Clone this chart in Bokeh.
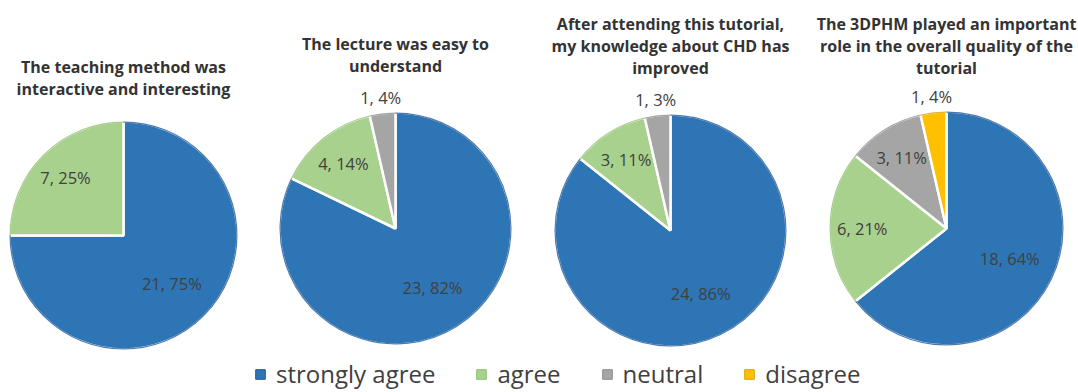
from math import pi, sin, cos, nan

from bokeh.core.properties import value
from bokeh.embed import file_html
from bokeh.models import ColumnDataSource, Legend, LegendItem, Range1d
from bokeh.plotting import figure
from bokeh.resources import INLINE

# ---- data -------------------------------------------------------------
categories = ["strongly agree", "agree", "neutral", "disagree"]
colors = ["#2E75B6", "#A9D18E", "#A5A5A5", "#FFC000"]
edge_colors = ["#22589A", "#8DBF6E", "#8C8C8C", "#D9A300"]

titles = [
    ["The teaching method was", "interactive and interesting"],
    ["The lecture was easy to", "understand"],
    ["After attending this tutorial,", "my knowledge about CHD has", "improved"],
    ["The 3DPHM played an important", "role in the overall quality of the", "tutorial"],
]

q1_counts = [21, 7, 0, 0]
q2_counts = [23, 4, 1, 0]
q3_counts = [24, 3, 1, 0]
q4_counts = [18, 6, 3, 1]

q1_pct = [75, 25, 0, 0]
q2_pct = [82, 14, 4, 0]
q3_pct = [86, 11, 3, 0]
q4_pct = [64, 21, 11, 4]

counts = [q1_counts, q2_counts, q3_counts, q4_counts]
pcts = [q1_pct, q2_pct, q3_pct, q4_pct]

# ---- layout (pixels, measured from the top-left of the page) ----------
W, H = 1078, 392
centers = [(123, 235), (395, 228), (670, 230), (946, 228)]
radii = [114, 116, 116, 117]
title_first_line = [66, 43, 23, 23]
LINE_STEP = 22

TEXT_DARK = "#404040"


def yy(py):
    """Convert a top-down pixel row to the bottom-up data coordinate."""
    return H - py


p = figure(
    width=W, height=H,
    x_range=Range1d(0, W), y_range=Range1d(0, H),
    output_backend="svg", toolbar_location=None,
    min_border=0, outline_line_color=None,
)
p.axis.visible = False
p.grid.visible = False
p.background_fill_color = "white"
p.border_fill_color = "white"

for k, (cnt, pct) in enumerate(zip(counts, pcts)):
    cx, cy = centers[k]
    r = radii[k]
    total = sum(cnt)

    wx, wy, starts, ends, fills, edges = [], [], [], [], [], []
    lx, ly, ltext = [], [], []
    cum = 0.0
    for i, c in enumerate(cnt):
        if c == 0:
            continue
        frac = c / total
        a0, a1 = cum, cum + frac
        # clockwise from 12 o'clock
        starts.append(pi / 2 - 2 * pi * a1)
        ends.append(pi / 2 - 2 * pi * a0)
        wx.append(cx)
        wy.append(yy(cy))
        fills.append(colors[i])
        edges.append(edge_colors[i])

        mid = 2 * pi * (a0 + frac / 2)
        if frac > 0.5:
            d = r * 0.6
        elif frac >= 0.08:
            d = r * 0.72
        else:
            d = r + 16
        lx.append(cx + sin(mid) * d)
        ly.append(yy(cy) + cos(mid) * d)
        ltext.append(f"{c}, {pct[i]}%")
        cum = a1

    src = ColumnDataSource(dict(x=wx, y=wy, s=starts, e=ends,
                                fill=fills, edge=edges))
    p.wedge(x="x", y="y", radius=r, start_angle="s", end_angle="e",
            direction="anticlock", fill_color="fill", line_color="white",
            line_width=2.5, source=src)
    # faint darker rim along the outside of every slice
    p.arc(x="x", y="y", radius=r - 0.6, start_angle="s", end_angle="e",
          direction="anticlock", line_color="edge", line_width=1.2,
          line_alpha=0.8, source=src)

    p.text(x=lx, y=ly, text=ltext, text_align="center", text_baseline="middle",
           text_font=value("Open Sans"), text_font_size="16.5px",
           text_color=TEXT_DARK)

    # chart title, one row per line
    tl = titles[k]
    p.text(x=[cx] * len(tl),
           y=[yy(title_first_line[k] + j * LINE_STEP) for j in range(len(tl))],
           text=tl, text_align="center", text_baseline="middle",
           text_font=value("Open Sans"), text_font_size="16px",
           text_font_style="bold", text_color="#333333")

# ---- shared legend (swatch renderers carry no visible data) -----------
items = []
for cat, col, ec in zip(categories, colors, edge_colors):
    r_ = p.quad(left=[nan], right=[nan], top=[nan], bottom=[nan],
                fill_color=col, line_color=ec, line_width=1)
    items.append(LegendItem(label=cat, renderers=[r_]))

legend = Legend(items=items, orientation="horizontal", location=(254, 2))
legend.border_line_color = None
legend.background_fill_alpha = 0
legend.padding = 0
legend.margin = 0
legend.glyph_width = 12
legend.glyph_height = 12
legend.label_standoff = 10
legend.spacing = 40
legend.label_text_font = "Open Sans"
legend.label_text_font_size = "24px"
legend.label_text_color = TEXT_DARK
p.add_layout(legend)

open("out.html", "w").write(file_html(p, INLINE))
